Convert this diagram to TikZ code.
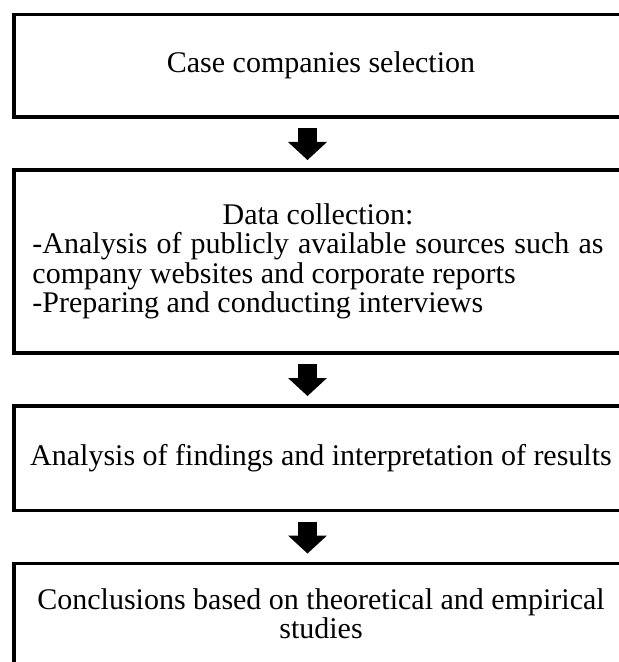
\documentclass[tikz,border=0pt]{standalone}
\usepackage{fontspec}
\setmainfont{Liberation Serif}
\usetikzlibrary{positioning,arrows.meta}
\begin{document}
\begin{tikzpicture}[x=0.5pt,y=-0.5pt,
  stage/.style={draw,line width=1.75pt,outer sep=0pt,inner sep=0pt,minimum width=307pt,
    font=\fontsize{15pt}{14.75pt}\selectfont,align=center},
  flow/.style={line width=9.5pt,-{Triangle[width=19.5pt,length=9pt,line width=0pt]},
    shorten <=5.5pt,shorten >=5pt},
  node distance=26.5pt]
\useasboundingbox (0,0) rectangle (619,662);
\coordinate (axis) at (307.5,0);
\node[stage,minimum height=51.25pt,anchor=north west] (select) at (14,14.5) {Case companies selection};
\node[stage,minimum height=91.5pt,minimum width=304pt,text width=285.5pt,align=justify,
  below=of select.south west,anchor=north west] (collect)
  {\makebox[\linewidth]{Data collection:}\\-Analysis of publicly available sources such as\linebreak company websites and corporate reports\\-Preparing and conducting interviews};
\node[stage,minimum height=52.25pt,below=of collect.south west,anchor=north west] (analyse)
  {Analysis of findings and interpretation of results};
\node[stage,minimum height=50pt,below=of analyse.south west,anchor=north west] (conclude)
  {Conclusions based on theoretical and empirical\\studies};
\draw[flow] (select.south -| axis) -- (collect.north -| axis);
\draw[flow] (collect.south -| axis) -- (analyse.north -| axis);
\draw[flow] (analyse.south -| axis) -- (conclude.north -| axis);
\end{tikzpicture}
\end{document}
